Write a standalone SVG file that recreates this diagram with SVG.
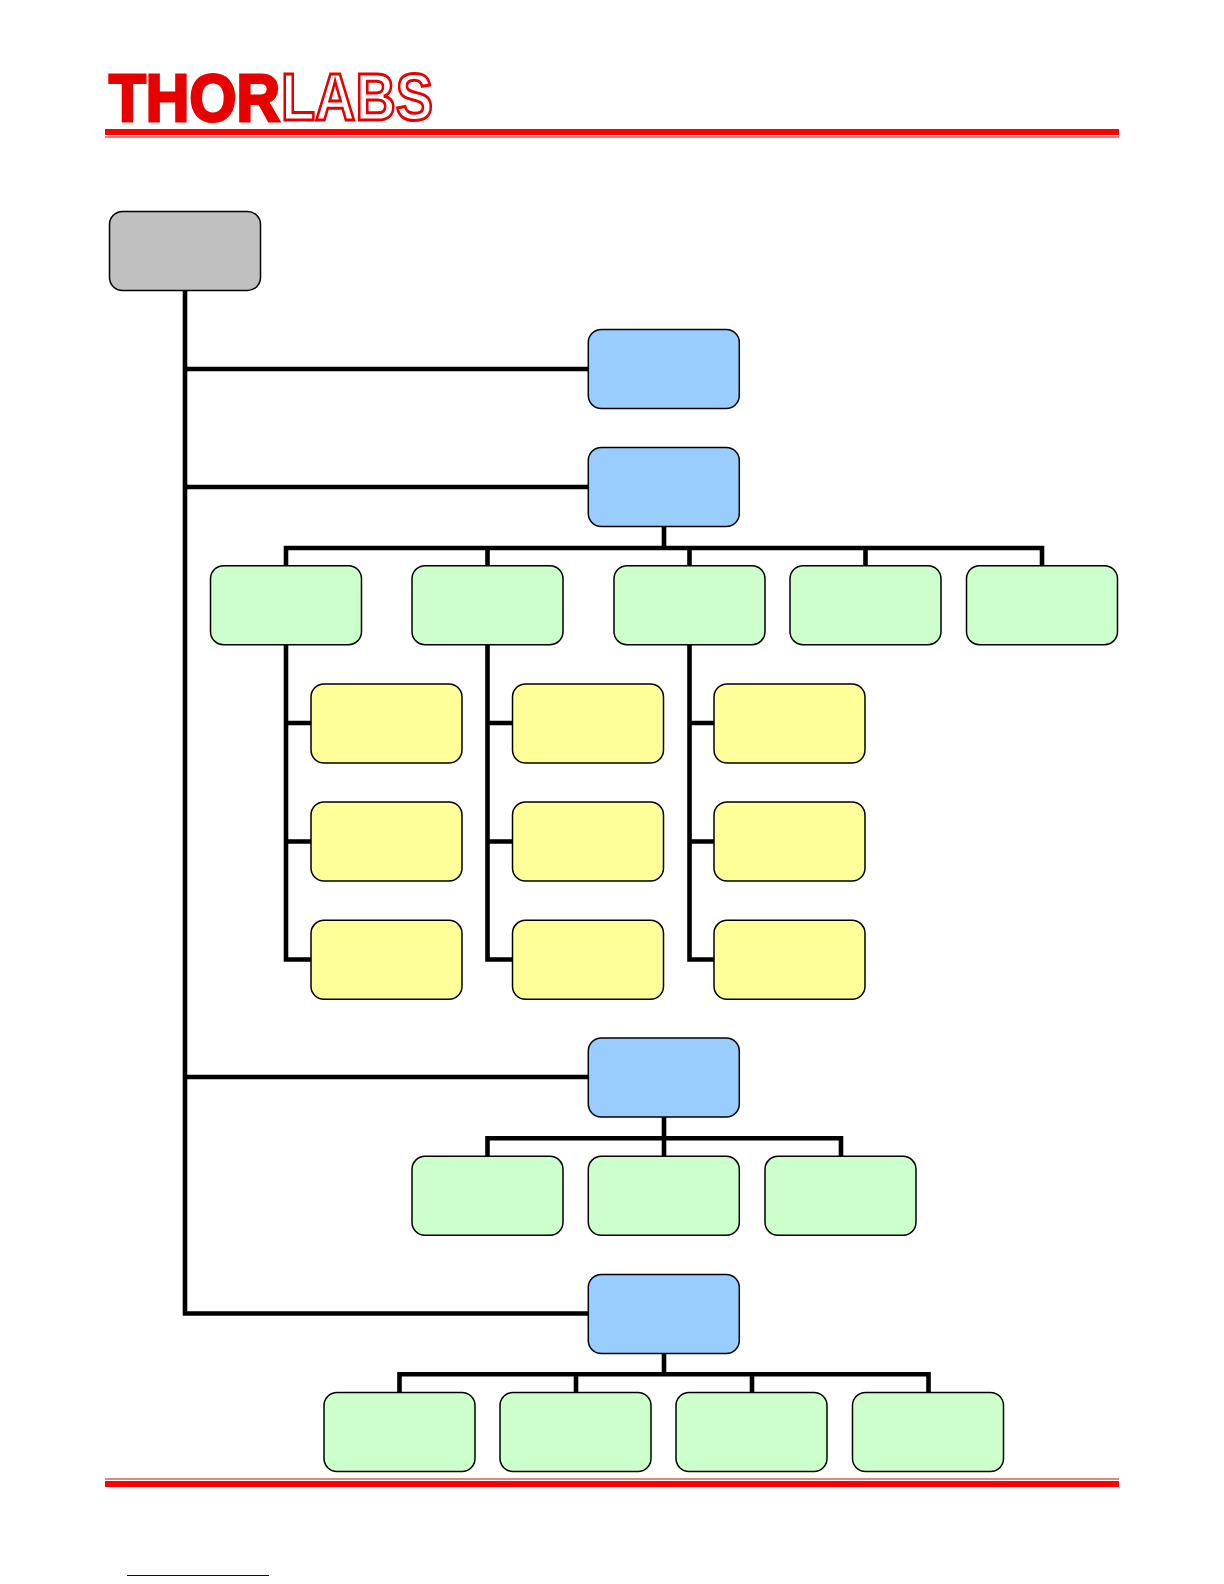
<svg xmlns="http://www.w3.org/2000/svg" width="1224" height="1584" viewBox="0 0 1224 1584">
<style>
.n{stroke:#000;stroke-width:1.500}
.g{fill:#c0c0c0}.b{fill:#99ccff}.p{fill:#ccffcc}.y{fill:#ffff99}
#connectors path{fill:none;stroke:#000;stroke-width:4.600;stroke-linejoin:miter}
.logo{font-family:"Liberation Sans",Arial,sans-serif;font-weight:700;font-size:66px}
</style>
<defs>
<rect id="box" width="151" height="79" rx="13" ry="13"/>
</defs>
<g id="header">
<text class="logo" x="109" y="120.500" fill="#e60000" stroke="#e60000" stroke-width="3" textLength="171" lengthAdjust="spacingAndGlyphs">THOR</text>
<text class="logo" x="281" y="120" fill="#fff" stroke="#e60000" stroke-width="3" textLength="152" lengthAdjust="spacingAndGlyphs">LABS</text>
<rect x="105" y="129" width="1014" height="6" fill="#f00"/>
<rect x="105" y="136.500" width="1014" height="1" fill="#c00000"/>
</g>
<g id="connectors">
<path d="M185 290V1313.500H588M185 369H588M185 487H588M185 1077H588"/>
<path d="M664 526V548M286 565.500V548H1042V565.500M487.500 548V565.500M689.500 548V565.500M865.500 548V565.500"/>
<path d="M286 644V959.500H311M286 723H311M286 841.500H311"/>
<path d="M487.500 644V959.500H513M487.500 723H513M487.500 841.500H513"/>
<path d="M689.500 644V959.500H714M689.500 723H714M689.500 841.500H714"/>
<path d="M664 1116V1138.300M487.500 1156V1138.300H841V1156M664 1138.300V1156"/>
<path d="M664 1352V1374.300M399.500 1392V1374.300H928.500V1392M576 1374.300V1392M752 1374.300V1392"/>
</g>
<g id="n-root"><use href="#box" class="n g" x="109.500" y="211.500"/></g>
<g id="n-a"><use href="#box" class="n b" x="588.300" y="329.500"/></g>
<g id="n-b"><use href="#box" class="n b" x="588.300" y="447.500"/></g>
<g id="n-b1"><use href="#box" class="n p" x="210.500" y="565.700"/></g>
<g id="n-b2"><use href="#box" class="n p" x="412" y="565.700"/></g>
<g id="n-b3"><use href="#box" class="n p" x="614" y="565.700"/></g>
<g id="n-b4"><use href="#box" class="n p" x="790" y="565.700"/></g>
<g id="n-b5"><use href="#box" class="n p" x="966.500" y="565.700"/></g>
<g id="n-b1a"><use href="#box" class="n y" x="311" y="684"/></g>
<g id="n-b1b"><use href="#box" class="n y" x="311" y="802"/></g>
<g id="n-b1c"><use href="#box" class="n y" x="311" y="920.300"/></g>
<g id="n-b2a"><use href="#box" class="n y" x="512.500" y="684"/></g>
<g id="n-b2b"><use href="#box" class="n y" x="512.500" y="802"/></g>
<g id="n-b2c"><use href="#box" class="n y" x="512.500" y="920.300"/></g>
<g id="n-b3a"><use href="#box" class="n y" x="714" y="684"/></g>
<g id="n-b3b"><use href="#box" class="n y" x="714" y="802"/></g>
<g id="n-b3c"><use href="#box" class="n y" x="714" y="920.300"/></g>
<g id="n-c"><use href="#box" class="n b" x="588.300" y="1038"/></g>
<g id="n-c1"><use href="#box" class="n p" x="412" y="1156.300"/></g>
<g id="n-c2"><use href="#box" class="n p" x="588.300" y="1156.300"/></g>
<g id="n-c3"><use href="#box" class="n p" x="765" y="1156.300"/></g>
<g id="n-d"><use href="#box" class="n b" x="588.300" y="1274.500"/></g>
<g id="n-d1"><use href="#box" class="n p" x="324" y="1392.500"/></g>
<g id="n-d2"><use href="#box" class="n p" x="500" y="1392.500"/></g>
<g id="n-d3"><use href="#box" class="n p" x="676" y="1392.500"/></g>
<g id="n-d4"><use href="#box" class="n p" x="852.500" y="1392.500"/></g>
<g id="footer">
<rect x="105" y="1478.500" width="1014" height="1" fill="#e60000"/>
<rect x="105" y="1481" width="1014" height="6" fill="#f00"/>
<rect x="127" y="1575" width="142" height="1" fill="#000099"/>
</g>
</svg>
